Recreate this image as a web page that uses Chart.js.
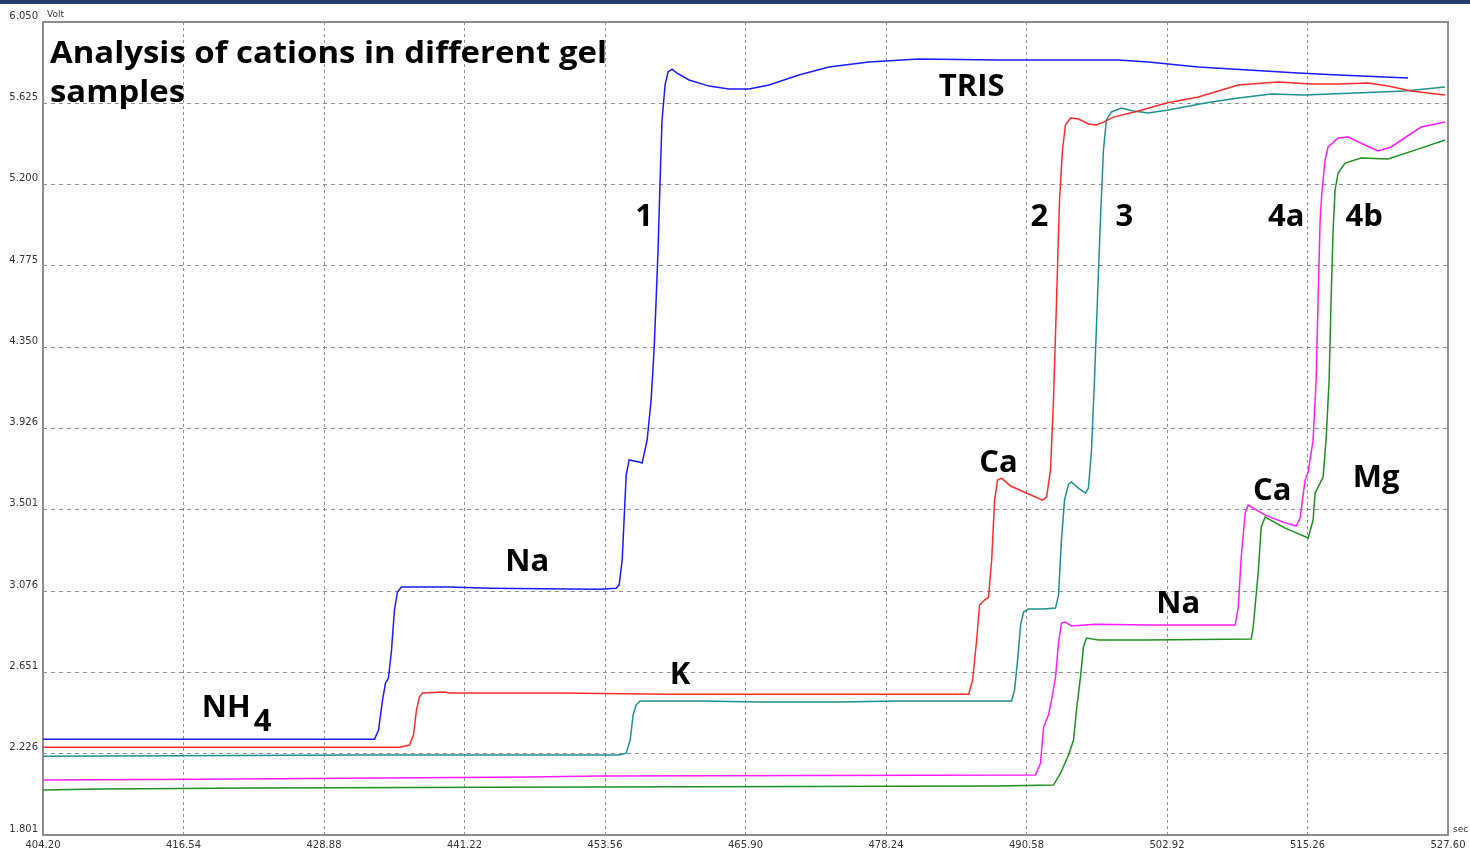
<!DOCTYPE html>
<html>
<head>
<meta charset="utf-8">
<script src="https://cdn.jsdelivr.net/npm/chart.js@4/dist/chart.umd.min.js"></script>
<style>
  html, body { margin: 0; padding: 0; background: #fff; }
  #wrap { width: 1470px; height: 853px; position: relative; }
</style>
</head>
<body>
<div id="wrap"><canvas id="cationChart"></canvas></div>
<script>
// axis ticks (sec / Volt)
const xTicks = ['404.20', '416.54', '428.88', '441.22', '453.56', '465.90', '478.24', '490.58', '502.92', '515.26', '527.60'];
const yTicks = ['1.801', '2.226', '2.651', '3.076', '3.501', '3.926', '4.350', '4.775', '5.200', '5.625', '6.050'];

// sample 1 (blue)
const blueTime = [404.20, 433.32, 433.67, 434.02, 434.28, 434.54, 434.81, 435.07, 435.33, 435.68, 439.89, 443.40, 453.05, 454.54, 454.80, 455.07, 455.42, 455.68, 456.56, 456.82, 457.26, 457.61, 457.87, 458.05, 458.22, 458.40, 458.57, 458.84, 459.10, 459.45, 459.89, 460.94, 462.70, 464.45, 466.20, 467.96, 470.59, 473.22, 476.73, 481.11, 488.13, 493.39, 498.65, 501.28, 505.67, 510.05, 514.44, 517.95, 524.09];
const blueVolt = [2.302, 2.302, 2.349, 2.506, 2.595, 2.621, 2.767, 2.977, 3.071, 3.097, 3.097, 3.091, 3.086, 3.091, 3.107, 3.238, 3.682, 3.761, 3.750, 3.745, 3.865, 4.074, 4.336, 4.597, 4.858, 5.224, 5.538, 5.721, 5.789, 5.804, 5.783, 5.747, 5.715, 5.700, 5.700, 5.721, 5.773, 5.815, 5.841, 5.857, 5.851, 5.851, 5.851, 5.841, 5.815, 5.799, 5.783, 5.773, 5.757];

// sample 2 (red)
const redTime = [404.20, 435.51, 436.39, 436.74, 437.00, 437.26, 437.53, 439.46, 439.89, 449.54, 459.19, 469.71, 485.50, 485.85, 486.20, 486.46, 486.90, 487.25, 487.52, 487.78, 488.04, 488.39, 489.18, 490.76, 491.99, 492.34, 492.69, 492.95, 493.22, 493.48, 493.74, 494.00, 494.44, 495.14, 496.02, 496.72, 497.34, 498.21, 500.41, 502.86, 505.67, 509.18, 512.68, 515.58, 517.95, 520.58, 522.33, 524.35, 527.33];
const redVolt = [2.260, 2.260, 2.271, 2.323, 2.454, 2.522, 2.543, 2.548, 2.543, 2.543, 2.537, 2.537, 2.537, 2.611, 2.820, 3.003, 3.029, 3.044, 3.238, 3.551, 3.656, 3.666, 3.625, 3.583, 3.551, 3.567, 3.708, 4.074, 4.597, 5.120, 5.381, 5.512, 5.548, 5.543, 5.517, 5.512, 5.527, 5.553, 5.585, 5.627, 5.658, 5.721, 5.736, 5.726, 5.726, 5.731, 5.715, 5.689, 5.668];

// sample 3 (teal)
const tealTime = [404.20, 432.88, 454.80, 455.42, 455.77, 456.03, 456.29, 456.64, 461.82, 467.08, 474.10, 479.36, 489.27, 489.53, 489.80, 490.06, 490.32, 490.76, 492.08, 493.13, 493.39, 493.65, 493.92, 494.27, 494.53, 495.14, 495.76, 496.02, 496.29, 496.55, 496.81, 497.07, 497.34, 497.60, 498.04, 498.92, 499.97, 501.28, 503.04, 506.28, 509.18, 512.07, 515.05, 519.44, 523.82, 527.33];
const tealVolt = [2.213, 2.219, 2.219, 2.229, 2.297, 2.428, 2.480, 2.501, 2.501, 2.496, 2.496, 2.501, 2.501, 2.558, 2.715, 2.898, 2.966, 2.982, 2.982, 2.987, 3.055, 3.342, 3.551, 3.635, 3.646, 3.614, 3.588, 3.614, 3.813, 4.179, 4.597, 5.015, 5.381, 5.538, 5.580, 5.600, 5.585, 5.574, 5.590, 5.627, 5.653, 5.674, 5.668, 5.679, 5.689, 5.710];

// sample 4a (magenta)
const magTime = [404.20, 417.97, 446.91, 453.05, 491.37, 491.81, 492.08, 492.51, 492.78, 493.13, 493.39, 493.65, 494.00, 494.53, 496.64, 501.28, 508.91, 509.18, 509.44, 509.79, 510.05, 511.54, 513.12, 514.26, 514.61, 515.05, 515.32, 515.75, 516.02, 516.19, 516.37, 516.54, 516.81, 517.07, 517.95, 518.82, 520.31, 521.45, 522.60, 525.23, 527.33];
const magVolt = [2.088, 2.093, 2.104, 2.109, 2.114, 2.177, 2.365, 2.428, 2.506, 2.626, 2.804, 2.909, 2.914, 2.893, 2.903, 2.898, 2.898, 2.992, 3.254, 3.484, 3.525, 3.473, 3.436, 3.416, 3.457, 3.656, 3.698, 3.865, 4.179, 4.597, 5.015, 5.172, 5.329, 5.397, 5.444, 5.449, 5.407, 5.376, 5.397, 5.501, 5.527];

// sample 4b (green)
const greenTime = [404.20, 409.20, 422.79, 444.28, 488.13, 492.95, 493.57, 494.27, 494.71, 494.97, 495.32, 495.58, 495.85, 496.90, 501.28, 510.32, 510.49, 510.93, 511.19, 511.54, 513.30, 515.32, 515.75, 515.93, 516.19, 516.63, 516.89, 517.16, 517.33, 517.51, 517.68, 517.95, 518.56, 519.96, 522.33, 525.23, 527.33];
const greenVolt = [2.036, 2.041, 2.046, 2.051, 2.057, 2.062, 2.124, 2.219, 2.297, 2.454, 2.626, 2.783, 2.830, 2.820, 2.820, 2.825, 2.888, 3.170, 3.410, 3.463, 3.405, 3.353, 3.447, 3.588, 3.619, 3.672, 3.865, 4.179, 4.597, 4.963, 5.172, 5.261, 5.313, 5.339, 5.334, 5.391, 5.433];

// text labels on the plot
const noteText = ['TRIS', '1', '2', '3', '4a', '4b', 'Na', 'K', 'NH', '4', 'Ca', 'Ca', 'Na', 'Mg'];
const noteTime = [485.76, 457.00, 491.72, 499.18, 513.39, 520.23, 446.73, 460.15, 420.30, 423.49, 488.13, 512.16, 503.91, 521.28];
const noteVolt = [5.721, 5.041, 5.041, 5.041, 5.041, 5.041, 3.238, 2.647, 2.475, 2.402, 3.755, 3.609, 3.018, 3.677];

const titleLines = ['Analysis of cations in different gel', 'samples'];

const toPoints = (t, v) => t.map((x, i) => ({ x: x, y: v[i] }));

const tickFont = { family: 'DejaVu Sans', size: 10 };

function series(t, v, color) {
    return {
        data: toPoints(t, v),
        borderColor: color,
        borderWidth: 1.5,
        showLine: true,
        pointRadius: 0,
        tension: 0,
        fill: false
    };
}

// draw text stretched to a given width
function fitText(ctx, txt, x, y, w) {
    const m = ctx.measureText(txt).width;
    ctx.save();
    ctx.translate(x, y);
    ctx.scale(w / m, 1);
    ctx.fillText(txt, 0, 0);
    ctx.restore();
}

// frame, top bar, unit labels, notes
const decor = {
    id: 'decor',
    beforeDatasetsDraw(chart) {
        const ctx = chart.ctx, a = chart.chartArea;
        ctx.save();
        ctx.fillStyle = '#1f3d68';
        ctx.fillRect(0, 0, chart.width, 4);
        ctx.strokeStyle = '#8c8c8c';
        ctx.lineWidth = 2;
        ctx.strokeRect(a.left, a.top, a.right - a.left, a.bottom - a.top);
        ctx.fillStyle = '#333';
        ctx.font = '9px "DejaVu Sans"';
        ctx.textBaseline = 'middle';
        ctx.textAlign = 'left';
        ctx.fillText('Volt', a.left + 4, a.top - 7);
        ctx.fillText('sec', a.right + 5, a.bottom - 5);
        ctx.restore();
    },
    afterDatasetsDraw(chart) {
        const ctx = chart.ctx, a = chart.chartArea;
        const xs = chart.scales.x, ys = chart.scales.y;
        ctx.save();
        ctx.fillStyle = '#000';
        ctx.textAlign = 'left';
        ctx.textBaseline = 'alphabetic';
        ctx.font = 'bold 31px "Open Sans"';
        fitText(ctx, titleLines[0], a.left + 7, 63, 557);
        fitText(ctx, titleLines[1], a.left + 7, 102, 135);
        ctx.font = 'bold 31px "Open Sans"';
        ctx.textAlign = 'center';
        noteText.forEach((txt, i) => {
            const px = xs.getPixelForValue(noteTime[i]);
            const py = ys.getPixelForValue(noteVolt[i]);
            ctx.fillText(txt, px, py + 11);
        });
        ctx.restore();
    }
};

const ctxCations = document.getElementById('cationChart').getContext('2d');
new Chart(ctxCations, {
    type: 'scatter',
    data: {
        datasets: [
            series(blueTime, blueVolt, '#1a1aff'),
            series(redTime, redVolt, '#ff2a2a'),
            series(tealTime, tealVolt, '#1f8f8f'),
            series(magTime, magVolt, '#ff1aff'),
            series(greenTime, greenVolt, '#1f8f1f')
        ]
    },
    options: {
        responsive: true,
        maintainAspectRatio: false,
        animation: false,
        layout: { padding: { top: 22, right: 22, left: 0, bottom: 0 } },
        plugins: { legend: { display: false }, tooltip: { enabled: false } },
        scales: {
            x: {
                type: 'linear',
                min: 404.2,
                max: 527.6,
                afterBuildTicks: s => { s.ticks = xTicks.map(v => ({ value: parseFloat(v) })); },
                afterFit: s => { s.height = 18; },
                ticks: {
                    callback: (v, i) => xTicks[i],
                    font: tickFont,
                    color: '#333',
                    padding: 4,
                    maxRotation: 0,
                    autoSkip: false
                },
                grid: {
                    drawTicks: false,
                    lineWidth: 1,
                    color: c => (c.index === 0 || c.index === xTicks.length - 1) ? 'rgba(0,0,0,0)' : '#8f8f8f'
                },
                border: { display: false, dash: [3, 3] }
            },
            y: {
                min: 1.801,
                max: 6.050,
                afterBuildTicks: s => { s.ticks = yTicks.map(v => ({ value: parseFloat(v) })); },
                afterFit: s => { s.width = 43; },
                ticks: {
                    callback: (v, i) => yTicks[i],
                    font: tickFont,
                    color: '#333',
                    padding: 5,
                    labelOffset: -6,
                    autoSkip: false
                },
                grid: {
                    drawTicks: false,
                    lineWidth: 1,
                    color: c => (c.index === 0 || c.index === yTicks.length - 1) ? 'rgba(0,0,0,0)' : '#8f8f8f'
                },
                border: { display: false, dash: [4, 4] }
            }
        }
    },
    plugins: [decor]
});
</script>
</body>
</html>
